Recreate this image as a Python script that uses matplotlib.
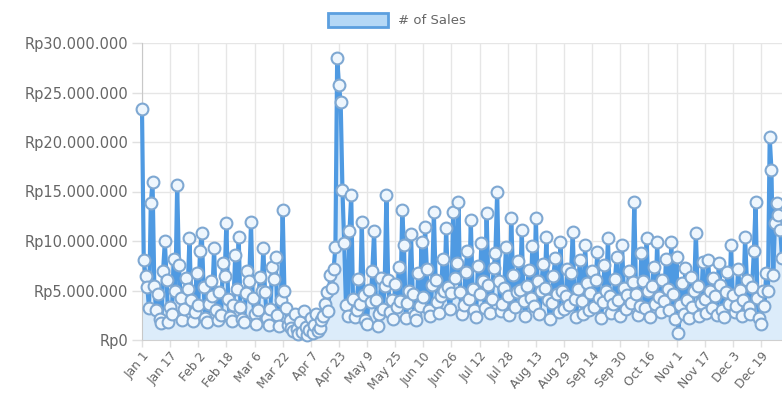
import matplotlib
matplotlib.use('Agg')
import matplotlib.pyplot as plt
import matplotlib.ticker as mticker
from matplotlib.patches import Patch
import numpy as np
import pandas as pd

# daily sales, millions of rupiah
jan = [23.3, 8.1, 6.5, 5.4, 3.2, 13.8, 16.0, 5.5, 3.0, 4.6, 2.1, 1.7, 7.0, 10.0,
       6.1, 1.8, 3.3, 2.6, 8.2, 5.0, 15.7, 7.6, 4.2, 2.0, 3.1, 6.3, 5.2, 10.3,
       4.0, 1.9, 2.8]
feb = [6.8, 3.5, 9.0, 10.8, 5.4, 2.2, 1.8, 3.6, 6.0, 4.4, 9.3, 3.0, 2.0, 4.8,
       2.5, 7.8, 6.5, 11.8, 4.1, 2.3, 1.9, 3.5, 8.6, 5.2, 10.4, 3.3, 2.1, 1.8]
mar = [4.7, 7.0, 6.0, 11.9, 4.2, 2.6, 1.6, 3.0, 6.4, 5.0, 9.3, 4.8, 2.2, 1.5,
       3.1, 7.4, 6.2, 8.4, 2.5, 1.4, 4.0, 13.1, 5.0, 3.2, 1.5, 2.0, 1.2, 0.9,
       2.6, 1.1, 0.6]
apr = [1.8, 0.8, 2.9, 1.3, 0.5, 1.0, 2.2, 0.7, 1.5, 2.6, 0.9, 1.2, 2.0, 2.4,
       3.6, 4.8, 2.9, 6.6, 5.3, 7.2, 9.4, 28.5, 25.8, 24.0, 15.2, 9.8, 3.5, 2.4,
       11.0, 14.6]
may = [4.1, 2.3, 3.0, 6.2, 3.6, 11.9, 4.5, 2.0, 1.6, 5.1, 3.8, 7.0, 11.0, 4.0,
       1.4, 2.6, 6.3, 3.1, 5.5, 14.6, 6.1, 2.8, 4.0, 2.1, 5.7, 3.3, 7.4, 3.9,
       13.1, 9.6, 2.2]
jun = [3.7, 5.0, 10.7, 4.6, 2.5, 2.0, 6.8, 3.4, 9.9, 4.3, 11.4, 7.2, 3.0, 2.4,
       5.6, 12.9, 6.1, 3.8, 2.7, 4.4, 8.2, 5.0, 11.3, 5.4, 3.1, 4.7, 12.9, 6.3,
       7.8, 13.9]
jul = [4.8, 2.6, 3.5, 6.9, 9.0, 4.1, 12.1, 5.2, 3.0, 2.3, 7.5, 4.6, 9.8, 6.0,
       3.2, 12.8, 5.6, 2.7, 4.1, 7.3, 8.8, 15.0, 6.0, 2.9, 3.6, 5.3, 9.4, 4.4,
       2.5, 12.3, 6.6]
aug = [3.3, 4.8, 8.0, 5.1, 11.1, 3.9, 2.4, 5.5, 7.1, 4.2, 9.5, 3.4, 12.3, 6.0,
       2.6, 4.9, 7.7, 5.3, 10.4, 4.0, 2.1, 3.7, 6.5, 8.3, 4.6, 2.8, 9.9, 5.0,
       3.1, 4.4, 7.2]
sep = [3.5, 6.8, 10.9, 4.1, 2.3, 5.2, 8.1, 3.9, 2.6, 9.6, 5.8, 3.0, 4.7, 7.0,
       3.3, 6.1, 8.9, 4.2, 2.2, 3.8, 7.6, 5.0, 10.3, 4.4, 2.7, 3.6, 6.2, 8.4,
       4.0, 2.4]
oct_ = [9.6, 5.3, 3.1, 4.5, 7.0, 3.7, 5.9, 13.9, 4.6, 2.5, 3.4, 8.8, 6.0, 3.2,
        10.3, 4.9, 2.3, 5.5, 7.4, 3.6, 9.9, 4.3, 2.8, 6.1, 3.9, 8.2, 5.2, 3.0,
        9.9, 4.6, 2.1]
nov = [8.4, 0.7, 3.5, 5.8, 2.6, 7.3, 4.0, 2.2, 6.4, 3.3, 4.9, 10.8, 5.5, 2.4,
       3.7, 7.9, 4.1, 2.7, 8.1, 5.0, 3.2, 6.3, 4.4, 2.5, 7.8, 5.6, 3.0, 2.3,
       4.8, 6.9]
dec = [3.6, 9.6, 4.5, 2.8, 3.4, 7.2, 5.1, 2.4, 4.0, 10.4, 6.1, 3.3, 2.6, 5.4,
       9.0, 13.9, 4.2, 2.2, 1.6, 5.0, 3.4, 6.8, 4.9, 20.5, 17.2, 6.6, 11.8,
       13.8, 12.6, 11.1, 8.3]

sales = np.array(jan + feb + mar + apr + may + jun + jul + aug + sep + oct_
                 + nov + dec) * 1e6
dates = pd.date_range('2019-01-01', periods=len(sales), freq='D')
labels = [f"{d.strftime('%b')} {d.day}" for d in dates]
tick_every = 16
yticks = [0, 5e6, 10e6, 15e6, 20e6, 25e6, 30e6]

plt.rcParams['font.family'] = ['DejaVu Sans']
txt = '#666666'
line_c = '#4f9ae2'

fig = plt.figure(figsize=(7.82, 3.95), dpi=100)
ax = fig.add_axes([142 / 782, 55 / 395, 640 / 782, 297 / 395])

x = np.arange(len(sales))
ax.fill_between(x, sales, color='#dcecfa', zorder=1)
ax.plot(x, sales, color=line_c, lw=3, marker='o', markersize=8.5,
        markerfacecolor='#eef6fd', markeredgecolor='#7fa8d2',
        markeredgewidth=1.5, zorder=3, clip_on=False)

ax.set_xlim(0, len(sales) - 1)
ax.set_ylim(0, 30e6)
ticks = x[::tick_every]
ax.set_xticks(ticks)
ax.set_xticklabels([labels[i] for i in ticks], rotation=50, ha='right',
                   rotation_mode='anchor', fontsize=8.8, color=txt)
ax.set_yticks(yticks)
ax.yaxis.set_major_formatter(mticker.FuncFormatter(
    lambda v, p: 'Rp' + f'{int(v):,}'.replace(',', '.')))
for lab in ax.get_yticklabels():
    lab.set_fontsize(10.5)
    lab.set_color(txt)

ax.grid(True, color='#e6e6e6', lw=1, zorder=0)
ax.set_axisbelow(True)
ax.tick_params(axis='both', color='#e0e0e0', width=1)
ax.tick_params(axis='y', length=7, pad=3)
ax.tick_params(axis='x', length=5, pad=2)
for s in ['top', 'right']:
    ax.spines[s].set_visible(False)
ax.spines['left'].set_color('#c8c8c8')
ax.spines['bottom'].set_color('#d0d0d0')

handle = Patch(facecolor='#b5d8f6', edgecolor='#5c9fdf', lw=2, label='# of Sales')
fig.legend(handles=[handle], loc='upper center', bbox_to_anchor=(0.507, 0.99),
           frameon=False, fontsize=9.5, labelcolor=txt, handlelength=4.6,
           handleheight=1.2, handletextpad=0.7, borderpad=0.2)

fig.savefig('out.png', dpi=100)
